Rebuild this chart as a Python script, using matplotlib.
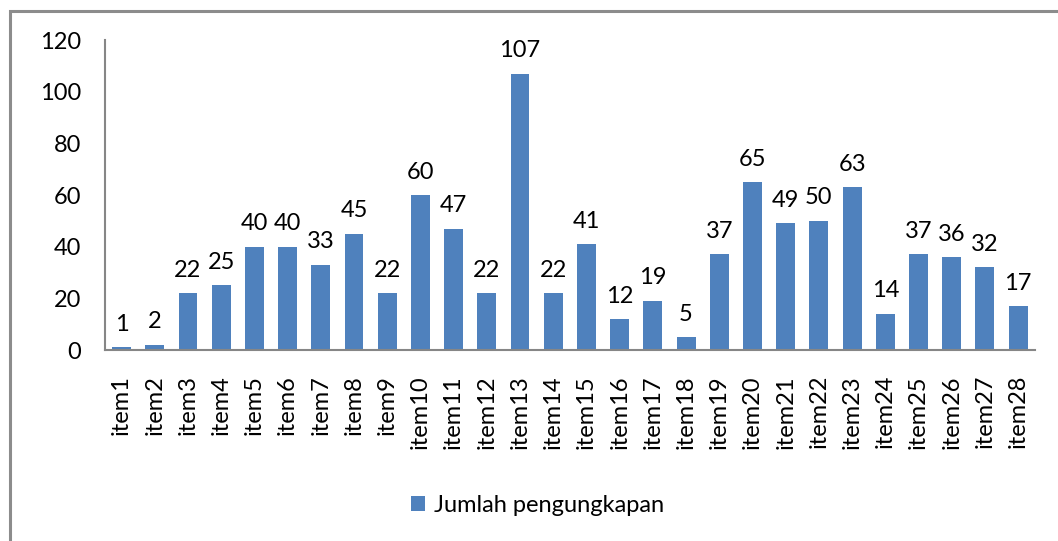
import numpy as np
import matplotlib.pyplot as plt
from matplotlib.patches import Rectangle

items = ['item%d' % i for i in range(1, 29)]
jumlah = [1, 2, 22, 25, 40, 40, 33, 45, 22, 60, 47, 22, 107, 22, 41,
          12, 19, 5, 37, 65, 49, 50, 63, 14, 37, 36, 32, 17]

plt.rcParams['font.family'] = ['Lato', 'DejaVu Sans']

fig = plt.figure(figsize=(10.58, 5.41), dpi=100)
ax = fig.add_axes([0.0992, 0.353, 0.8788, 0.573])

# outer chart frame (cut off at right and bottom like the screenshot)
fig.patches.append(Rectangle((10 / 1058, -0.1), 1.2, 1 - 11 / 541 + 0.1,
                             transform=fig.transFigure, fill=False,
                             edgecolor='#8c8c8c', linewidth=2.2))

x = np.arange(len(items))
bars = ax.bar(x, jumlah, width=0.57, color='#4F81BD', label='Jumlah pengungkapan')
for xi, v in zip(x, jumlah):
    ax.annotate(str(v), (xi, v), xytext=(0, 9), textcoords='offset points',
                ha='center', va='bottom', fontsize=17)

ax.set_xlim(-0.5, len(items) - 0.5)
ax.set_ylim(0, 120)
ax.set_yticks(range(0, 121, 20))
ax.set_xticks(x)
ax.set_xticklabels(items, rotation=90, fontsize=17)
ax.tick_params(axis='y', labelsize=17, length=0, pad=17)
ax.tick_params(axis='x', length=0, pad=18)
for s in ['top', 'right']:
    ax.spines[s].set_visible(False)
for s in ['left', 'bottom']:
    ax.spines[s].set_color('#868686')
    ax.spines[s].set_linewidth(1.5)

fig.legend(handles=[bars], labels=['Jumlah pengungkapan'], loc='center',
           bbox_to_anchor=(0.508, 0.066), frameon=False, fontsize=17,
           handlelength=0.6, handleheight=0.6, handletextpad=0.35)

fig.savefig('out.png', dpi=100)
